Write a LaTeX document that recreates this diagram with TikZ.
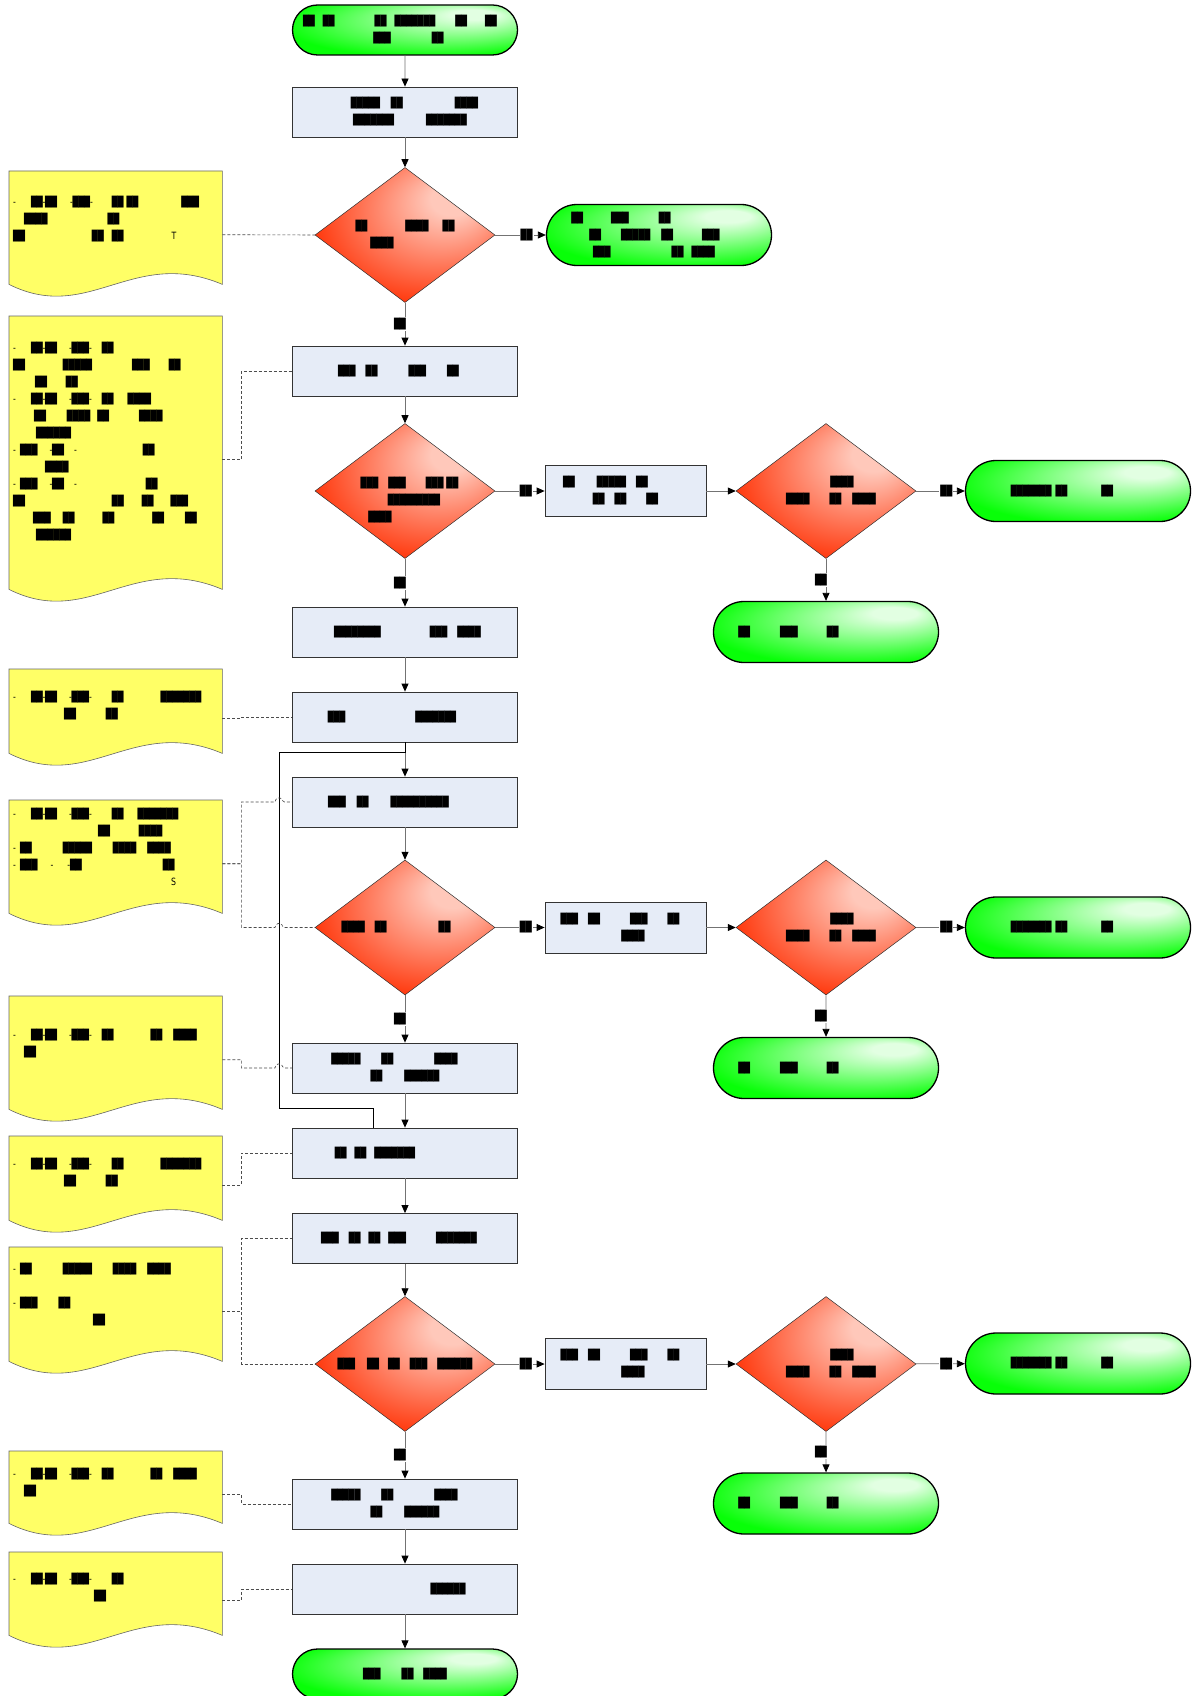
\documentclass[tikz,border=0pt]{standalone}
\usepackage{fontspec}
\newfontfamily\blockfont[FakeStretch=0.78, LetterSpace=-2]{DejaVu Sans}
\usepackage{xcolor}
\usepackage{tikz}
\usetikzlibrary{shapes.geometric, shapes.misc, arrows.meta, calc, positioning}
\definecolor{procfill}{RGB}{230,236,247}
\definecolor{notefill}{RGB}{255,255,102}
\definecolor{redhi}{RGB}{255,200,186}
\definecolor{redlo}{RGB}{255,52,8}
\definecolor{greenhi}{RGB}{226,255,226}
\definecolor{greenlo}{RGB}{8,255,8}
% the path box is mapped onto the inner 50bp square of these shadings
\pgfdeclareradialshading{redfade}{\pgfpoint{15bp}{15bp}}{color(0bp)=(redhi); color(6bp)=(redhi); color(32bp)=(redlo); color(50bp)=(redlo)}
\pgfdeclareradialshading{greenfade}{\pgfpoint{17bp}{17bp}}{color(0bp)=(greenhi); color(5bp)=(greenhi); color(33bp)=(greenlo); color(50bp)=(greenlo)}
\newcommand{\gp}[1]{\kern#1pt\relax}
\newcommand{\notewave}[1]{\draw[notebg] (#1.north west) -- (#1.north east) -- ([yshift=14pt]#1.south east)
  .. controls ([xshift=-90pt,yshift=52pt]#1.south east) and ([xshift=80pt,yshift=-26pt]#1.south west) .. ([yshift=14pt]#1.south west) -- cycle;}
\tikzset{
  txt/.style={font=\blockfont\fontsize{10}{17}\selectfont},
  proc/.style={txt, draw=black!80, fill=procfill, line width=0.8pt, minimum width=225pt, minimum height=50pt, inner sep=0pt, align=center},
  sproc/.style={proc, minimum width=161pt, minimum height=51pt},
  decide/.style={txt, diamond, aspect=1.333, draw=black!80, line width=0.5pt, shade, shading=redfade, minimum width=180pt, minimum height=135pt, inner sep=0pt, align=center},
  term/.style={txt, rounded rectangle, draw=black, line width=1.3pt, shade, shading=greenfade, minimum width=225pt, minimum height=50pt, inner sep=0pt, align=center},
  bigterm/.style={term, minimum height=61pt},
  note/.style={minimum width=213pt, minimum height=#1pt, anchor=north west, inner sep=0pt},
  notetext/.style={txt, anchor=north west, inner sep=0pt, align=left},
  notebg/.style={draw=black!60, fill=notefill, line width=0.6pt},
  flow/.style={draw=black!55, line width=0.8pt, -{Triangle[length=8pt,width=7pt,color=black]}},
  lbl/.style={txt, fill=white, inner sep=1pt},
  link/.style={draw=black!70, dash pattern=on 3pt off 2pt, line width=0.6pt},
  loopline/.style={draw=black, line width=0.7pt}
}

\begin{document}
\begin{tikzpicture}[x=1pt, y=-1pt]
\fill[white] (0,0) rectangle (1198,1696);
\useasboundingbox (0,0) rectangle (1198,1696);

% main column
\node[term] (begin) at (405,30) {██\gp{8}██\gp{40}██\gp{8}███████\gp{20}██\gp{18}██\gp{10}\\\gp{7}███\gp{41}██};
\node[proc] (s1) at (405,112) {\gp{19}█████\gp{11}██\gp{52}████\\\gp{10}███████\gp{32}███████};
\node[decide] (c1) at (405,235) {██\gp{38}████\gp{14}██\\████\gp{46}};
\node[bigterm] (ok1) at (659,235) {██\gp{28}███\gp{30}██\gp{76}\\██\gp{20}█████\gp{11}██\gp{29}███\gp{9}\\███\gp{61}██\gp{8}████\gp{10}};
\node[proc] (s2) at (405,371) {███\gp{10}██\gp{31}███\gp{21}██\gp{13}};
\node[decide, inner sep=-8pt] (c2) at (405,491) {\rule{0pt}{10pt}\\\gp{9}███\gp{10}███\gp{20}███\gp{3}██\\\gp{18}█████████\\████\gp{50}};
\node[proc] (s3) at (405,632) {\gp{5}████████\gp{49}███\gp{10}████};
\node[proc] (s4) at (405,717) {███\gp{70}███████\gp{26}};
\node[proc] (s5) at (405,802) {███\gp{11}██\gp{22}██████████\gp{33}};
\node[decide] (c3) at (405,927.5) {████\gp{10}██\gp{52}██\gp{18}};
\node[proc] (s6) at (405,1068) {█████\gp{21}██\gp{41}████\gp{21}\\██\gp{22}██████};
\node[proc] (s7) at (405,1153) {██\gp{8}██\gp{8}███████\gp{60}};
\node[proc] (s8) at (405,1238.5) {███\gp{10}██\gp{8}██\gp{8}███\gp{30}███████\gp{12}};
\node[decide] (c4) at (405,1364) {███\gp{12}██\gp{9}██\gp{10}███\gp{10}██████};
\node[proc] (s9) at (405,1504) {█████\gp{21}██\gp{41}████\gp{21}\\██\gp{22}██████};
\node[proc] (s10) at (405,1589) {\gp{86}██████};
\node[term] (finish) at (405,1674) {███\gp{21}██\gp{10}████};

% side branches
\node[sproc] (r2) at (625.5,491) {██\gp{22}█████\gp{10}██\gp{40}\\██\gp{10}██\gp{20}██};
\node[decide] (k2) at (826,491) {\gp{32}████\\\gp{10}████\gp{20}██\gp{11}████};
\node[bigterm] (ok2) at (1078,491) {███████\gp{4}██\gp{34}██\gp{32}};
\node[bigterm] (no2) at (826,632) {██\gp{30}███\gp{29}██\gp{75}};

\node[sproc] (r3) at (625.5,927.5) {███\gp{10}██\gp{30}███\gp{20}██\gp{11}\\\gp{15}████};
\node[decide] (k3) at (826,927.5) {\gp{32}████\\\gp{10}████\gp{20}██\gp{11}████};
\node[bigterm] (ok3) at (1078,927.5) {███████\gp{4}██\gp{34}██\gp{32}};
\node[bigterm] (no3) at (826,1068) {██\gp{30}███\gp{29}██\gp{75}};

\node[sproc] (r4) at (625.5,1364) {███\gp{10}██\gp{30}███\gp{20}██\gp{11}\\\gp{15}████};
\node[decide] (k4) at (826,1364) {\gp{32}████\\\gp{10}████\gp{20}██\gp{11}████};
\node[bigterm] (ok4) at (1078,1363.5) {███████\gp{4}██\gp{34}██\gp{32}};
\node[bigterm] (no4) at (826,1503.5) {██\gp{30}███\gp{29}██\gp{75}};

% notes
\node[note=127] (m1) at (9,171) {};
\notewave{m1}
\node[notetext] (m1t) at (13,196) {-\gp{15}██-██\gp{13}-███-\gp{19}██\gp{3}██\gp{43}███\\\gp{11}████\gp{60}██\\██\gp{67}██\gp{8}██\gp{48}T};

\node[note=287] (m2) at (9,316) {};
\notewave{m2}
\node[notetext] (m2t) at (13,342) {-\gp{15}██-██\gp{12}-███-\gp{10}██\\██\gp{38}█████\gp{40}███\gp{19}██\\\gp{22}██\gp{19}██\\-\gp{15}██-██\gp{12}-███-\gp{10}██\gp{14}████\\\gp{21}██\gp{21}████\gp{7}██\gp{30}████\\\gp{23}██████\\-\gp{4}███\gp{12}-██\gp{10}-\gp{66}██\\\gp{32}████\\-\gp{4}███\gp{12}-██\gp{10}-\gp{69}██\\██\gp{87}██\gp{18}██\gp{17}███\\\gp{20}███\gp{12}██\gp{28}██\gp{38}██\gp{21}██\\\gp{23}██████};

\node[note=98] (m3) at (9,669) {};
\notewave{m3}
\node[notetext] (m3t) at (13,691) {-\gp{15}██-██\gp{12}-███-\gp{20}██\gp{37}███████\\\gp{51}██\gp{30}██};

\node[note=127] (m4) at (9,800) {};
\notewave{m4}
\node[notetext] (m4t) at (13,808) {-\gp{15}██-██\gp{12}-███-\gp{20}██\gp{14}███████\\\gp{85}██\gp{29}████\\-\gp{4}██\gp{31}█████\gp{21}████\gp{11}████\\-\gp{4}███\gp{13}-\gp{14}-██\gp{81}██\\\gp{158}S};

\node[note=127] (m5) at (9,996) {};
\notewave{m5}
\node[notetext] (m5t) at (13,1029) {-\gp{15}██-██\gp{12}-███-\gp{10}██\gp{37}██\gp{11}████\\\gp{11}██};

\node[note=98] (m6) at (9,1136) {};
\notewave{m6}
\node[notetext] (m6t) at (13,1158) {-\gp{15}██-██\gp{12}-███-\gp{20}██\gp{37}███████\\\gp{51}██\gp{30}██};

\node[note=128] (m7) at (9,1247) {};
\notewave{m7}
\node[notetext] (m7t) at (13,1263) {-\gp{4}██\gp{31}█████\gp{21}████\gp{11}████\\[17pt]-\gp{4}███\gp{21}██\\\gp{80}██};

\node[note=86] (m8) at (9,1451) {};
\notewave{m8}
\node[notetext] (m8t) at (13,1468) {-\gp{15}██-██\gp{12}-███-\gp{10}██\gp{37}██\gp{11}████\\\gp{11}██};

\node[note=97] (m9) at (9,1552) {};
\notewave{m9}
\node[notetext] (m9t) at (13,1573) {-\gp{15}██-██\gp{12}-███-\gp{20}██\\\gp{81}██};

% flow
\draw[flow] (begin) -- (s1);
\draw[flow] (s1) -- (c1);
\draw[flow] (c1) -- node[lbl,pos=.62]{██} (ok1);
\draw[flow] (c1) -- node[lbl,xshift=-5pt]{██} (s2);
\draw[flow] (s2) -- (c2);
\draw[flow] (c2) -- node[lbl,pos=.62]{██} (r2);
\draw[flow] (r2) -- (k2);
\draw[flow] (k2) -- node[lbl,pos=.62]{██} (ok2);
\draw[flow] (k2) -- node[lbl,xshift=-5pt]{██} (no2);
\draw[flow] (c2) -- node[lbl,xshift=-5pt]{██} (s3);
\draw[flow] (s3) -- (s4);
\draw[flow] (s4) -- (s5);
\draw[flow] (s5) -- (c3);
\draw[flow] (c3) -- node[lbl,pos=.62]{██} (r3);
\draw[flow] (r3) -- (k3);
\draw[flow] (k3) -- node[lbl,pos=.62]{██} (ok3);
\draw[flow] (k3) -- node[lbl,xshift=-5pt]{██} (no3);
\draw[flow] (c3) -- node[lbl,xshift=-5pt]{██} (s6);
\draw[flow] (s6) -- (s7);
\draw[flow] (s7) -- (s8);
\draw[flow] (s8) -- (c4);
\draw[flow] (c4) -- node[lbl,pos=.62]{██} (r4);
\draw[flow] (r4) -- (k4);
\draw[flow] (k4) -- node[lbl,pos=.62]{██} (ok4);
\draw[flow] (k4) -- node[lbl,xshift=-5pt]{██} (no4);
\draw[flow] (c4) -- node[lbl,xshift=-5pt]{██} (s9);
\draw[flow] (s9) -- (s10);
\draw[flow] (s10) -- (finish);

% loop back line
\coordinate (lp) at (279,752);
\coordinate (lq) at (373,1108);
\draw[loopline] (s4.south) |- (lp) -- (lp |- lq) -- (lq) -- (lq |- s7.north);

% note links
\draw[link] (m1.east) -- (c1.west);
\draw[link] (m2.east) -- ++(19,0) |- (s2.west);
\draw[link] (m3.east) -- ++(19,0) |- (s4.west);
\draw[link] (m4.east) -- ++(19,0) |- ([xshift=-4pt]lp |- s5.west) [rounded corners=1.5pt] -- ++(1.5,-4) -- ++(5,0) -- ++(1.5,4) [sharp corners] -- (s5.west);
\draw[link] (m4.east) -- ++(19,0) |- ([xshift=-4pt]lp |- c3.west) [rounded corners=1.5pt] -- ++(1.5,-4) -- ++(5,0) -- ++(1.5,4) [sharp corners] -- (c3.west);
\draw[link] (m5.east) -- ++(19,0) |- ([xshift=-4pt]lp |- s6.west) [rounded corners=1.5pt] -- ++(1.5,-4) -- ++(5,0) -- ++(1.5,4) [sharp corners] -- (s6.west);
\draw[link] (m6.east) -- ++(19,0) |- (s7.west);
\draw[link] (m7.east) -- ++(19,0) |- (s8.west);
\draw[link] (m7.east) -- ++(19,0) |- (c4.west);
\draw[link] (m8.east) -- ++(19,0) |- (s9.west);
\draw[link] (m9.east) -- ++(19,0) |- (s10.west);
\end{tikzpicture}
\end{document}
